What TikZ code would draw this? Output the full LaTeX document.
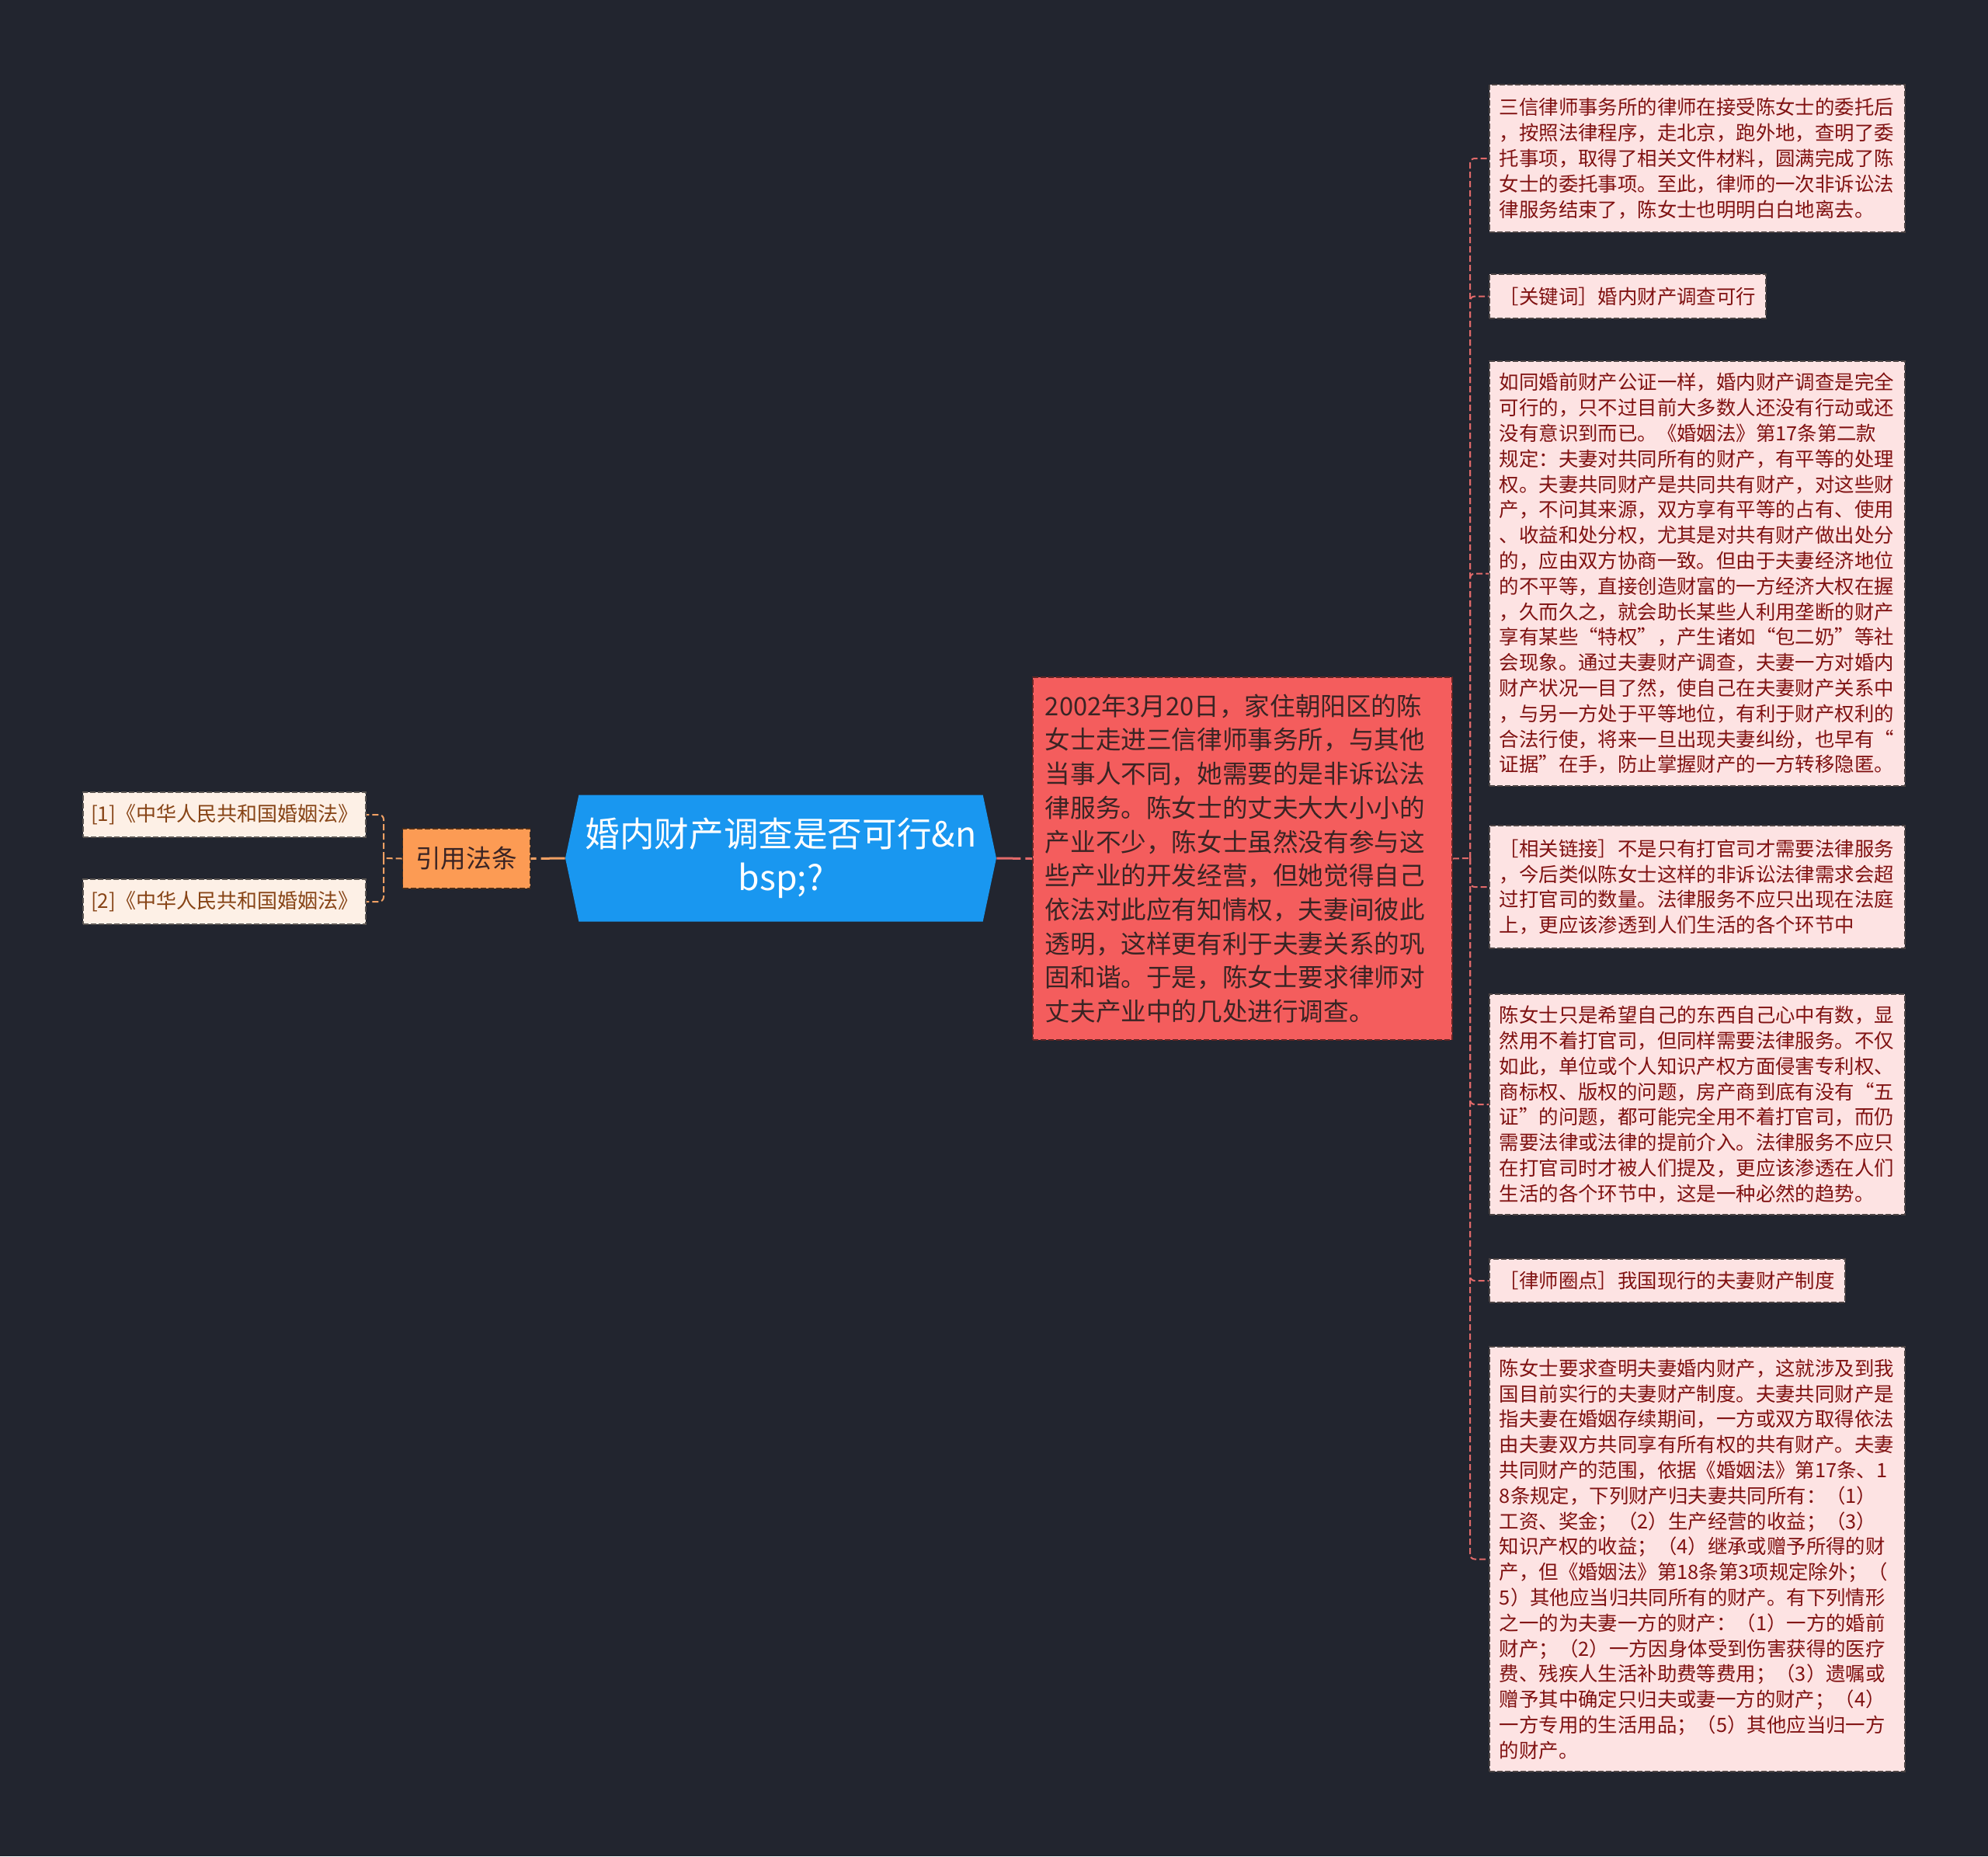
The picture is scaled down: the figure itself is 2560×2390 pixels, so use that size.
\documentclass[tikz,border=0pt]{standalone}
\usepackage{fontspec}
\setmainfont{Noto Sans CJK SC}
\usepackage{xcolor}
\usetikzlibrary{shapes.symbols}
\definecolor{bgdark}{RGB}{34,37,47}
\definecolor{topicblue}{RGB}{25,151,240}
\definecolor{citeorange}{RGB}{252,155,84}
\definecolor{lawfill}{RGB}{253,240,230}
\definecolor{lawtext}{RGB}{135,68,22}
\definecolor{casered}{RGB}{244,93,93}
\definecolor{casetext}{RGB}{58,36,36}
\definecolor{notefill}{RGB}{253,227,227}
\definecolor{notetext}{RGB}{128,18,18}
\definecolor{rline}{RGB}{226,106,106}
\definecolor{lline}{RGB}{240,160,100}
\tikzset{topic/.style={shape=signal, signal to=west and east, signal pointer angle=156,
   fill=topicblue, text=white, minimum width=277.5pt, minimum height=81.5pt, inner sep=0pt,
   align=center, font=\fontsize{22.3pt}{27.8pt}\selectfont},
 citebox/.style={fill=citeorange, draw=black!70!citeorange, dashed, line width=0.9pt,
   dash pattern=on 3.5pt off 1.5pt, text=casetext, minimum width=82pt, minimum height=38.5pt,
   font=\fontsize{16.3pt}{20pt}\selectfont},
 lawleaf/.style={fill=lawfill, draw=black!65!lawfill, line width=0.9pt,
   dash pattern=on 3.5pt off 1.5pt, text=lawtext, minimum width=182pt, minimum height=29pt,
   font=\fontsize{13pt}{16pt}\selectfont},
 casebox/.style={fill=casered, draw=black!60!casered, line width=0.9pt,
   dash pattern=on 3.5pt off 1.5pt, text=casetext, text width=254pt, inner xsep=8pt,
   align=left, font=\fontsize{16.3pt}{21.85pt}\selectfont},
 noteleaf/.style={fill=notefill, draw=black!70!notefill, line width=0.9pt,
   dash pattern=on 3.5pt off 1.5pt, text=notetext, inner xsep=6.5pt, anchor=west,
   align=left, font=\fontsize{12.7pt}{16.4pt}\selectfont},
 longnote/.style={noteleaf, text width=254.5pt},
 rlink/.style={draw=rline, line width=1pt, dash pattern=on 4pt off 2pt, rounded corners=3pt},
 llink/.style={draw=lline, line width=1pt, dash pattern=on 4pt off 2pt, rounded corners=3pt},
 }

\begin{document}
\begin{tikzpicture}[x=0.5pt,y=-0.5pt]
        \fill [bgdark] (0,0) rectangle (2560,2390);
        \useasboundingbox (0,0) rectangle (2560,2390);
        \node [topic] (root) at (1005.5,1105) {婚内财产调查是否可行\&n\\bsp;?};
        \node [citebox] (cite) at (600.5,1105.5) {引用法条};
        \node [lawleaf, anchor=east] (law1) at (472,1049) {[1]《中华人民共和国婚姻法》};
        \node [lawleaf, anchor=east] (law2) at (472,1161) {[2]《中华人民共和国婚姻法》};
        \node [casebox, anchor=west, minimum height=233.5pt] (case) at (1329,1105.5)
            {2002年3月20日，家住朝阳区的陈\\女士走进三信律师事务所，与其他\\当事人不同，她需要的是非诉讼法\\律服务。陈女士的丈夫大大小小的\\产业不少，陈女士虽然没有参与这\\些产业的开发经营，但她觉得自己\\依法对此应有知情权，夫妻间彼此\\透明，这样更有利于夫妻关系的巩\\固和谐。于是，陈女士要求律师对\\丈夫产业中的几处进行调查。};
        \node [longnote, minimum height=95pt] (note1) at (1917,204)
            {三信律师事务所的律师在接受陈女士的委托后\\，按照法律程序，走北京，跑外地，查明了委\\托事项，取得了相关文件材料，圆满完成了陈\\女士的委托事项。至此，律师的一次非诉讼法\\律服务结束了，陈女士也明明白白地离去。};
        \node [noteleaf, minimum height=28.5pt] (note2) at (1917,381.5) {［关键词］婚内财产调查可行};
        \node [longnote, minimum height=273.5pt] (note3) at (1917,738.5)
            {如同婚前财产公证一样，婚内财产调查是完全\\可行的，只不过目前大多数人还没有行动或还\\没有意识到而已。《婚姻法》第17条第二款\\规定：夫妻对共同所有的财产，有平等的处理\\权。夫妻共同财产是共同共有财产，对这些财\\产，不问其来源，双方享有平等的占有、使用\\、收益和处分权，尤其是对共有财产做出处分\\的，应由双方协商一致。但由于夫妻经济地位\\的不平等，直接创造财富的一方经济大权在握\\，久而久之，就会助长某些人利用垄断的财产\\享有某些“特权”，产生诸如“包二奶”等社\\会现象。通过夫妻财产调查，夫妻一方对婚内\\财产状况一目了然，使自己在夫妻财产关系中\\，与另一方处于平等地位，有利于财产权利的\\合法行使，将来一旦出现夫妻纠纷，也早有“\\证据”在手，防止掌握财产的一方转移隐匿。};
        \node [longnote, minimum height=79pt] (note4) at (1917,1142)
            {［相关链接］不是只有打官司才需要法律服务\\，今后类似陈女士这样的非诉讼法律需求会超\\过打官司的数量。法律服务不应只出现在法庭\\上，更应该渗透到人们生活的各个环节中};
        \node [longnote, minimum height=142pt] (note5) at (1917,1422)
            {陈女士只是希望自己的东西自己心中有数，显\\然用不着打官司，但同样需要法律服务。不仅\\如此，单位或个人知识产权方面侵害专利权、\\商标权、版权的问题，房产商到底有没有“五\\证”的问题，都可能完全用不着打官司，而仍\\需要法律或法律的提前介入。法律服务不应只\\在打官司时才被人们提及，更应该渗透在人们\\生活的各个环节中，这是一种必然的趋势。};
        \node [noteleaf, minimum height=28pt] (note6) at (1917,1649) {［律师圈点］我国现行的夫妻财产制度};
        \node [longnote, minimum height=273.5pt] (note7) at (1917,2007.5)
            {陈女士要求查明夫妻婚内财产，这就涉及到我\\国目前实行的夫妻财产制度。夫妻共同财产是\\指夫妻在婚姻存续期间，一方或双方取得依法\\由夫妻双方共同享有所有权的共有财产。夫妻\\共同财产的范围，依据《婚姻法》第17条、1\\8条规定，下列财产归夫妻共同所有：（1）\\工资、奖金；（2）生产经营的收益；（3）\\知识产权的收益；（4）继承或赠予所得的财\\产，但《婚姻法》第18条第3项规定除外；（\\5）其他应当归共同所有的财产。有下列情形\\之一的为夫妻一方的财产：（1）一方的婚前\\财产；（2）一方因身体受到伤害获得的医疗\\费、残疾人生活补助费等费用；（3）遗嘱或\\赠予其中确定只归夫或妻一方的财产；（4）\\一方专用的生活用品；（5）其他应当归一方\\的财产。};
        % joints of the two branch spines
        \coordinate (rjoint) at (1893,1105);
        \coordinate (ljoint) at (494,1105);
        \draw [rline, line width=1.5pt, dash pattern=on 15.5pt off 3pt] (root.east) -- (case.west);
        \draw [lline, line width=1.5pt, dash pattern=on 15.5pt off 3pt] (root.west) -- (cite.east);
        \draw [rlink] (case.east) -- (rjoint);
        \draw [rlink] (rjoint) |- (note1.west);
        \draw [rlink] (rjoint) |- (note2.west);
        \draw [rlink] (rjoint) |- (note3.west);
        \draw [rlink] (rjoint) |- (note4.west);
        \draw [rlink] (rjoint) |- (note5.west);
        \draw [rlink] (rjoint) |- (note6.west);
        \draw [rlink] (rjoint) |- (note7.west);
        \draw [llink] (cite.west) -- (ljoint);
        \draw [llink] (ljoint) |- (law1.east);
        \draw [llink] (ljoint) |- (law2.east);
    \end{tikzpicture}
\end{document}
